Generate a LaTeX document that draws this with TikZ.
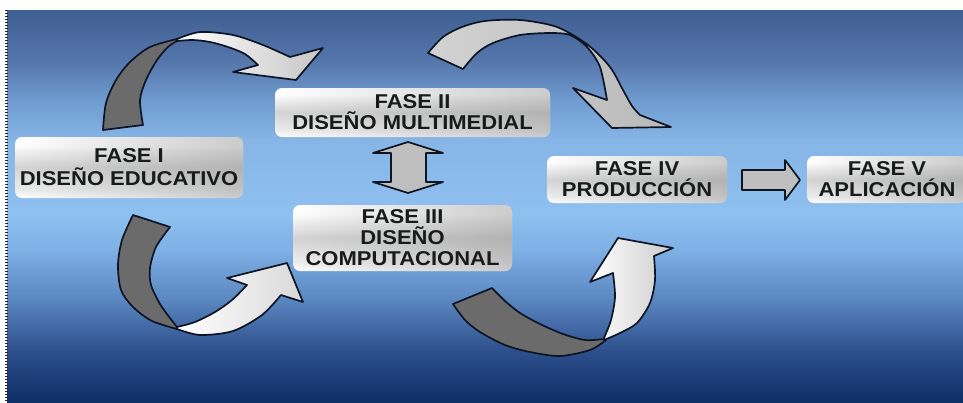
\documentclass[tikz,border=0pt]{standalone}
\usepackage{fontspec}
\setmainfont{Liberation Sans}[FakeStretch=1.1]
\usetikzlibrary{fadings,calc}
\definecolor{bg0}{HTML}{0E2E66}
\definecolor{bg1}{HTML}{2D4F8C}
\definecolor{bg2}{HTML}{5A86C0}
\definecolor{bg3}{HTML}{7FB0E6}
\definecolor{bg4}{HTML}{8EC0F0}
\definecolor{bg5}{HTML}{86B5E6}
\definecolor{bg6}{HTML}{6F9BD0}
\definecolor{bg7}{HTML}{5576AB}
\definecolor{bg8}{HTML}{3F5F92}
\definecolor{bxa}{HTML}{EDEDED}
\definecolor{bxb}{HTML}{D4D4D4}
\definecolor{bxc}{HTML}{EFEFEF}
\definecolor{outl}{HTML}{0D1525}
\definecolor{darkg}{HTML}{6B6B6B}
\definecolor{txt}{HTML}{171C19}
\pgfdeclareverticalshading{bgshade}{100bp}{color(0bp)=(bg0); color(25bp)=(bg0); color(31.5bp)=(bg1); color(38bp)=(bg2); color(44.5bp)=(bg3); color(49bp)=(bg4); color(58.5bp)=(bg5); color(63.5bp)=(bg6); color(68.5bp)=(bg7); color(75bp)=(bg8); color(100bp)=(bg8)}
\pgfdeclareverticalshading{boxshade}{100bp}{color(0bp)=(white); color(25bp)=(white); color(32bp)=(bxa); color(50bp)=(bxb); color(62bp)=(bxc); color(68bp)=(white); color(100bp)=(white)}
\tikzfading[name=fadeR, left color=transparent!100, middle color=transparent!100, right color=transparent!0]
\tikzset{
  phase/.style={rounded corners=7pt, shade, shading=boxshade, align=center,
    font=\fontsize{20}{21}\selectfont\bfseries, text=txt, inner sep=0pt,
    postaction={fill=gray, fill opacity=0.4, path fading=fadeR}},
  outline/.style={draw=outl, line width=1.7pt, line join=round},
  darkpart/.style={outline, fill=darkg},
  lightpart/.style={outline, left color=white, right color=gray!45},
  blockarrow/.style={outline, left color=gray!50, middle color=white, right color=gray!50}
}
\begin{document}
\begin{tikzpicture}[x=1pt,y=-1pt]
\useasboundingbox (0,0) rectangle (963,402);
\fill[white] (0,0) rectangle (963,402);
\shade[shading=bgshade] (7,10) rectangle (963,402);
\draw[line width=2.2pt, dash pattern=on 1.4pt off 1.6pt, black!85] (6.5,10) -- (6.5,402);

% boxes
\node[phase, minimum width=228pt, minimum height=61pt] (f1) at (129,167.5) {FASE I\\[2pt]DISEÑO EDUCATIVO};
\node[phase, minimum width=275pt, minimum height=49pt] (f2) at (412.5,112.5) {FASE II\\DISEÑO MULTIMEDIAL};
\node[phase, minimum width=219pt, minimum height=66pt] (f3) at (402.5,238) {FASE III\\DISEÑO\\COMPUTACIONAL};
\node[phase, minimum width=180pt, minimum height=47pt] (f4) at (637,179.5) {FASE IV\\PRODUCCIÓN};
\node[phase, minimum width=160pt, minimum height=47pt] (f5) at (887,179.5) {FASE V\\APLICACIÓN};

% arrow A (I -> II)
\path[darkpart] plot[smooth] coordinates {(103,130) (106,103) (116,80) (130,62) (150,47) (177,39)}
  -- plot[smooth] coordinates {(177,41) (168,47) (157,60) (146,80) (140,100) (143,125)} -- cycle;
\path[lightpart] plot[smooth] coordinates {(177,39) (200,32) (233,35) (263,45) (290,57)}
  -- (323,48) -- (296,80) -- (233,72)
  -- plot[smooth] coordinates {(258,65) (245,54) (228,47) (210,42) (193,40) (177,41)} -- cycle;

% arrow B (II -> IV)
\path[outline, left color=gray!35, middle color=white, right color=gray!55]
  plot[smooth] coordinates {(428,53) (443,37) (462,27) (485,21) (520,20) (557,27) (588,45) (610,67) (623,90) (632,106) (640,115)}
  -- (671,127) -- (612,128) -- (573,88)
  -- plot[smooth] coordinates {(607,100) (600,67) (587,47) (570,35) (550,33) (520,35) (493,43) (477,53) (463,69)} -- cycle;

% arrow C (I -> III)
\path[darkpart] plot[smooth] coordinates {(133,215) (122,240) (118,265) (121,290) (133,307) (152,321) (177,329)}
  -- plot[smooth] coordinates {(177,327) (170,318) (160,304) (151,285) (150,268) (156,247) (170,227)} -- cycle;
\path[outline, left color=white, right color=gray!30]
  plot[smooth] coordinates {(177,329) (200,335) (233,331) (262,315) (281,295)}
  -- (303,302) -- (287,263) -- (227,278)
  -- plot[smooth] coordinates {(247,285) (232,300) (215,312) (195,322) (177,327)} -- cycle;

% arrow D (III -> IV)
\path[darkpart] plot[smooth] coordinates {(453,304) (465,320) (480,332) (505,345) (530,352) (560,356) (590,350) (606,340)}
  -- plot[smooth] coordinates {(604,339) (585,340) (563,334) (540,324) (520,313) (505,301) (492,288)} -- cycle;
\path[outline, left color=white, right color=gray!40]
  plot[smooth] coordinates {(604,340) (620,333) (637,323) (650,303) (655,280) (654,256)}
  -- (673,248) -- (618,238) -- (590,282)
  -- plot[smooth] coordinates {(613,273) (615,297) (611,320) (604,338)} -- cycle;

% double arrow II <-> III
\coordinate (da) at ($(f2.south)!0.5!(f3.north)$);
\path[blockarrow, shift={(da)}] (0.5,-29) -- (35.5,-18) -- (18.5,-18) -- (18.5,11) -- (35.5,11)
  -- (0.5,22) -- (-34.5,11) -- (-16.5,11) -- (-16.5,-18) -- (-34.5,-18) -- cycle;

% right arrow IV -> V
\coordinate (ra) at ($(f4.east)!0.5!(f5.west)$);
\path[blockarrow, shift={(ra)}] (-25,-9.5) -- (18,-9.5) -- (18,-19.5) -- (33,0.5) -- (18,20.5) -- (18,10.5) -- (-25,10.5) -- cycle;
\end{tikzpicture}
\end{document}
